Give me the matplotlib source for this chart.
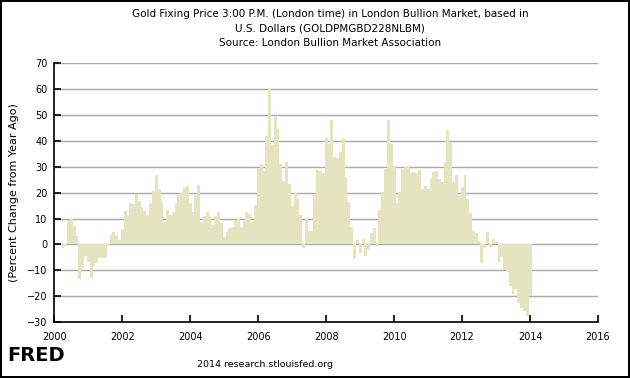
import matplotlib
matplotlib.use("Agg")
import matplotlib.pyplot as plt
import matplotlib.dates as mdates
import pandas as pd

# percent change from year ago, monthly, Apr 2000 .. Jan 2014
start = "2000-04-01"
pct_2000 = [-1.3, -0.5, 9.5, 10.0, 7.2, 3.3, -13.2, -9.3, -4.5]
pct_2001 = [-6.7, -12.8, -8.3, -7.3, -5.2, -5.4, -5.1, -0.6, 3.5, 4.9, 3.8, 1.8]
pct_2002 = [6.0, 13.0, 11.5, 16.0, 15.5, 19.4, 16.8, 14.5, 13.0, 11.5, 16.0, 20.5]
pct_2003 = [26.8, 21.4, 16.5, 8.8, 13.4, 11.4, 12.5, 16.0, 19.0, 20.0, 22.0, 22.6]
pct_2004 = [16.0, 12.5, 19.2, 23.0, 8.5, 11.0, 12.5, 11.0, 7.5, 11.0, 12.7, 8.4]
pct_2005 = [2.8, 4.8, 6.5, 6.6, 9.5, 9.9, 6.8, 9.0, 12.5, 11.8, 8.6, 15.4]
pct_2006 = [29.7, 31.0, 28.3, 42.0, 60.0, 38.4, 49.2, 44.5, 31.2, 24.7, 31.7, 23.5]
pct_2007 = [14.8, 19.8, 17.6, 11.3, -1.4, 9.9, 5.0, 5.2, 19.1, 28.8, 28.4, 27.5]
pct_2008 = [41.0, 38.7, 47.9, 33.9, 33.3, 35.7, 41.3, 26.1, 16.4, 6.9, -5.6, 1.6]
pct_2009 = [-3.5, 2.2, -4.6, -2.1, 4.5, 6.3, -0.6, 13.2, 20.1, 29.3, 48.1, 39.0]
pct_2010 = [30.2, 16.2, 20.4, 29.0, 29.8, 30.4, 27.7, 28.1, 27.5, 28.6, 21.5, 22.5]
pct_2011 = [21.3, 25.3, 27.9, 28.3, 25.3, 24.0, 31.8, 44.4, 39.4, 24.1, 26.9, 18.8]
pct_2012 = [22.1, 27.0, 17.5, 12.0, 5.0, 4.4, 1.4, -7.1, -1.5, 4.9, -1.0, 2.2]
pct_2013 = [1.0, -6.6, -4.8, -9.8, -10.8, -16.0, -19.3, -17.4, -22.7, -24.6, -25.9, -27.7]
pct_2014 = [-20.0]

values = (pct_2000 + pct_2001 + pct_2002 + pct_2003 + pct_2004 + pct_2005 + pct_2006
          + pct_2007 + pct_2008 + pct_2009 + pct_2010 + pct_2011 + pct_2012 + pct_2013 + pct_2014)
dates = pd.date_range(start, periods=len(values), freq="MS")

yticks = [-30, -20, -10, 0, 10, 20, 30, 40, 50, 60, 70]
xyears = [2000, 2002, 2004, 2006, 2008, 2010, 2012, 2014, 2016]

title = ("Gold Fixing Price 3:00 P.M. (London time) in London Bullion Market, based in\n"
         "U.S. Dollars (GOLDPMGBD228NLBM)\n"
         "Source: London Bullion Market Association")

plt.rcParams['font.family'] = ['DejaVu Sans']

fig = plt.figure(figsize=(6.3, 3.78), dpi=100, linewidth=1.5, edgecolor="black")
ax = fig.add_axes([0.0862, 0.148, 0.863, 0.6845])

ax.bar(dates, values, width=31, color="#e6e4c0", align="center", zorder=2, linewidth=0)

ax.set_ylim(-30, 70)
ax.set_yticks(yticks)
ax.yaxis.grid(True, color="#aaaaaa", linewidth=1, zorder=1)
ax.set_xlim(pd.Timestamp("2000-01-01"), pd.Timestamp("2016-01-01"))
ax.set_xticks([pd.Timestamp(f"{y}-01-01") for y in xyears])
ax.xaxis.set_major_formatter(mdates.DateFormatter("%Y"))

for s in ["top", "right"]:
    ax.spines[s].set_visible(False)
for s in ["left", "bottom"]:
    ax.spines[s].set_linewidth(1.2)
ax.tick_params(direction="in", length=5, width=1.2, labelsize=7, pad=5)
ax.tick_params(axis="x", pad=7)

ax.set_ylabel("(Percent Change from Year Ago)", fontsize=8, labelpad=6)
fig.text(0.524, 0.975, title, ha="center", va="top", fontsize=7.5, linespacing=1.55)

fig.text(0.012, 0.06, "FRED", fontsize=14, fontweight="bold", ha="left", va="center")
fig.text(0.42, 0.037, "2014 research.stlouisfed.org", fontsize=6.8, ha="center", va="center")

fig.savefig("out.png", dpi=100, edgecolor=fig.get_edgecolor())
